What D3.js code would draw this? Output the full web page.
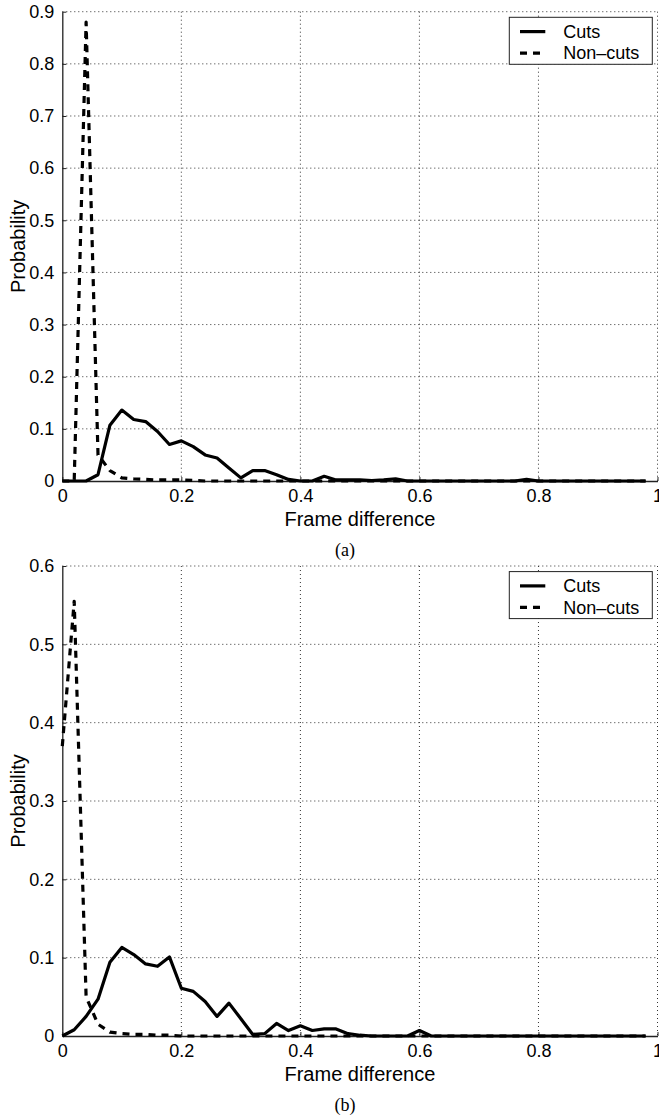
<!DOCTYPE html>
<html>
<head>
<meta charset="utf-8">
<script src="https://cdn.jsdelivr.net/npm/d3@7"></script>
<style>
  html, body { margin: 0; padding: 0; background: #fff; }
  svg { display: block; }
</style>
</head>
<body>
<script>
// ---------- DATA ----------
const binCenters = [0.00,0.02,0.04,0.06,0.08,0.10,0.12,0.14,0.16,0.18,
                    0.20,0.22,0.24,0.26,0.28,0.30,0.32,0.34,0.36,0.38,
                    0.40,0.42,0.44,0.46,0.48,0.50,0.52,0.54,0.56,0.58,
                    0.60,0.62,0.64,0.66,0.68,0.70,0.72,0.74,0.76,0.78,
                    0.80,0.82,0.84,0.86,0.88,0.90,0.92,0.94,0.96,0.98];

// Panel (a)
const cutsA = [0,0,0,0.012,0.107,0.136,0.118,0.114,0.095,0.070,
               0.077,0.066,0.050,0.044,0.025,0.006,0.020,0.020,0.012,0.003,
               0,0,0.009,0.002,0.002,0.002,0.001,0.002,0.004,0,
               0,0,0,0,0,0,0,0,0,0.003,
               0,0,0,0,0,0,0,0,0,0];
const nonCutsA = [0,0,0.88,0.05,0.02,0.006,0.004,0.003,0.002,0.002,
                  0.002,0.001,0,0,0,0,0,0,0,0,
                  0,0,0,0,0,0,0,0,0,0,
                  0,0,0,0,0,0,0,0,0,0,
                  0,0,0,0,0,0,0,0,0,0];
const yTicksA = [0,0.1,0.2,0.3,0.4,0.5,0.6,0.7,0.8,0.9];

// Panel (b)
const cutsB = [0,0.008,0.025,0.047,0.094,0.113,0.104,0.092,0.089,0.101,
               0.061,0.057,0.044,0.025,0.042,0.022,0.002,0.003,0.016,0.007,
               0.013,0.007,0.009,0.009,0.003,0.001,0,0,0,0,
               0.007,0,0,0,0,0,0,0,0,0,
               0,0,0,0,0,0,0,0,0,0];
const nonCutsB = [0.37,0.555,0.05,0.015,0.005,0.003,0.002,0.002,0.001,0.001,
                  0,0,0,0,0,0,0,0,0,0,
                  0,0,0,0,0,0,0,0,0,0,
                  0,0,0,0,0,0,0,0,0,0,
                  0,0,0,0,0,0,0,0,0,0];
const yTicksB = [0,0.1,0.2,0.3,0.4,0.5,0.6];

const xTicks = [0,0.2,0.4,0.6,0.8,1];
const xTickLabels = ["0","0.2","0.4","0.6","0.8","1"];
const seriesNames = ["Cuts","Non\u2013cuts"];
const xLabel = "Frame difference";
const yLabel = "Probability";
const captions = ["(a)","(b)"];

// ---------- LAYOUT ----------
const W = 659, H = 1117;
const svg = d3.select("body").append("svg").attr("width", W).attr("height", H);
svg.append("rect").attr("width", W).attr("height", H).attr("fill", "#fff");

const FONT = "'Liberation Sans', Arial, Helvetica, sans-serif";
const x = d3.scaleLinear().domain([0, 1]).range([62.3, 657.5]);

function panel(top, bottom, yMax, yTicks, cuts, nonCuts, caption) {
  const y = d3.scaleLinear().domain([0, yMax]).range([bottom, top]);
  const g = svg.append("g");

  // grid (dotted)
  const grid = g.append("g").attr("stroke", "#333").attr("stroke-width", 1)
    .attr("stroke-dasharray", "1,3");
  grid.selectAll("line.vx").data(xTicks.slice(1)).join("line")
    .attr("x1", d => x(d)).attr("x2", d => x(d))
    .attr("y1", top).attr("y2", bottom);
  grid.selectAll("line.hy").data(yTicks.slice(1)).join("line")
    .attr("x1", x(0)).attr("x2", x(1))
    .attr("y1", d => y(d)).attr("y2", d => y(d));

  // axes
  const xAxis = d3.axisBottom(x).tickValues(xTicks)
    .tickFormat((d, i) => xTickLabels[i]).tickSizeInner(-4).tickSizeOuter(0).tickPadding(8);
  const gx = g.append("g").attr("transform", `translate(0,${bottom})`).call(xAxis);
  const yAxis = d3.axisLeft(y).tickValues(yTicks)
    .tickFormat(d => d === 0 ? "0" : d3.format(".1f")(d)).tickSizeInner(-4).tickSizeOuter(0).tickPadding(8);
  const gy = g.append("g").attr("transform", `translate(${x(0)},0)`).call(yAxis);
  [gx, gy].forEach(a => {
    a.select(".domain").attr("stroke", "#222").attr("stroke-width", 1.3);
    a.selectAll(".tick line").attr("stroke", "#222");
    a.selectAll("text").attr("font-family", FONT).attr("font-size", 18).attr("fill", "#000");
  });

  // series
  const line = d3.line().x((d, i) => x(binCenters[i])).y(d => y(d));
  g.append("path").datum(cuts).attr("d", line)
    .attr("fill", "none").attr("stroke", "#000").attr("stroke-width", 3.2)
    .attr("stroke-linejoin", "round");
  g.append("path").datum(nonCuts).attr("d", line)
    .attr("fill", "none").attr("stroke", "#000").attr("stroke-width", 3.2)
    .attr("stroke-dasharray", "7,6").attr("stroke-linejoin", "round");

  // labels
  g.append("text").attr("x", (x(0) + x(1)) / 2).attr("y", bottom + 45)
    .attr("text-anchor", "middle").attr("font-family", FONT).attr("font-size", 20)
    .text(xLabel);
  g.append("text").attr("transform", `translate(25,${(top + bottom) / 2}) rotate(-90)`)
    .attr("text-anchor", "middle").attr("font-family", FONT).attr("font-size", 20)
    .text(yLabel);
  g.append("text").attr("x", 345).attr("y", bottom + 75)
    .attr("text-anchor", "middle").attr("font-family", "'Liberation Serif', 'Times New Roman', serif")
    .attr("font-size", 18).text(caption);

  // legend
  const lg = g.append("g").attr("transform", `translate(509.3,${top + 5.6})`);
  lg.append("rect").attr("width", 143).attr("height", 47)
    .attr("fill", "#fff").attr("stroke", "#222").attr("stroke-width", 1);
  const rows = [14.3, 35.8];
  const dashes = [null, "7,6"];
  seriesNames.forEach((name, i) => {
    lg.append("line").attr("x1", 10.7).attr("x2", 36).attr("y1", rows[i]).attr("y2", rows[i])
      .attr("stroke", "#000").attr("stroke-width", 3.2)
      .attr("stroke-dasharray", dashes[i]);
    lg.append("text").attr("x", 54).attr("y", rows[i]).attr("dy", "0.35em")
      .attr("font-family", FONT).attr("font-size", 18).text(name);
  });
}

panel(11.7, 481, 0.9, yTicksA, cutsA, nonCutsA, captions[0]);
panel(566, 1036, 0.6, yTicksB, cutsB, nonCutsB, captions[1]);
</script>
</body>
</html>
